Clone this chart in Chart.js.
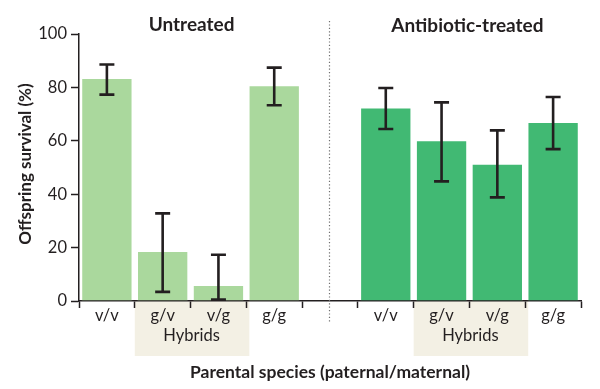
<!DOCTYPE html>
<html>
<head>
<meta charset="utf-8">
<script src="https://cdn.jsdelivr.net/npm/chart.js@4"></script>
<style>
html,body{margin:0;padding:0;background:#fff;}
#wrap{width:600px;height:389px;}
</style>
</head>
<body>
<div id="wrap"><canvas id="c" width="600" height="389"></canvas></div>
<script>
const categories = ['v/v','g/v','v/g','g/g','','v/v','g/v','v/g','g/g'];
const untreatedMeans = [83.5, 18.7, 6.0, 80.8];
const untreatedLow   = [77.3, 3.4, 0.5, 73.3];
const untreatedHigh  = [88.6, 32.8, 17.3, 87.4];
const treatedMeans   = [72.5, 60.2, 51.4, 67.0];
const treatedLow     = [64.4, 44.8, 38.8, 56.9];
const treatedHigh    = [79.8, 74.4, 63.9, 76.4];
const groupTitles = ['Untreated', 'Antibiotic-treated'];
const hybridLabel = 'Hybrids';
const yTitle = 'Offspring survival (%)';
const xTitle = 'Parental species (paternal/maternal)';

const LIGHT = '#aad89d', DARK = '#41b973', INK = '#231f20';
const values = [...untreatedMeans, null, ...treatedMeans];
const lows = [...untreatedLow, null, ...treatedLow];
const highs = [...untreatedHigh, null, ...treatedHigh];
const colors = values.map((v, i) => i < 4 ? LIGHT : DARK);

const deco = {
  id: 'deco',
  beforeDraw(chart) {
    const ctx = chart.ctx, x = chart.scales.x, area = chart.chartArea;
    const w = x.getPixelForValue(1) - x.getPixelForValue(0);
    ctx.save();
    ctx.fillStyle = '#f3f0e4';
    [[1, 2], [6, 7]].forEach(([a, b]) => {
      const l = x.getPixelForValue(a) - w / 2;
      const r = x.getPixelForValue(b) + w / 2 + 3;
      ctx.fillRect(l, area.bottom, r - l, 356 - area.bottom);
    });
    ctx.restore();
  },
  afterDraw(chart) {
    const ctx = chart.ctx, x = chart.scales.x, y = chart.scales.y, area = chart.chartArea;
    const meta = chart.getDatasetMeta(0);
    ctx.save();
    // error bars
    ctx.strokeStyle = INK; ctx.lineWidth = 2.6; ctx.lineCap = 'butt';
    values.forEach((v, i) => {
      if (v === null) return;
      const cx = meta.data[i].x;
      const yl = y.getPixelForValue(lows[i]), yh = y.getPixelForValue(highs[i]);
      ctx.beginPath();
      ctx.moveTo(cx, yl); ctx.lineTo(cx, yh);
      ctx.moveTo(cx - 7.5, yl); ctx.lineTo(cx + 7.5, yl);
      ctx.moveTo(cx - 7.5, yh); ctx.lineTo(cx + 7.5, yh);
      ctx.stroke();
    });
    // divider
    const dx = Math.round(x.getPixelForValue(4)) - 0.5;
    ctx.strokeStyle = '#6f6f6f'; ctx.lineWidth = 1.2; ctx.setLineDash([1.2, 2.2]);
    ctx.beginPath(); ctx.moveTo(dx, 21); ctx.lineTo(dx, 323); ctx.stroke();
    ctx.setLineDash([]);
    // group titles
    ctx.fillStyle = INK; ctx.textAlign = 'center'; ctx.textBaseline = 'middle';
    ctx.font = 'bold 19px Lato';
    ctx.fillText(groupTitles[0], (x.getPixelForValue(0) + x.getPixelForValue(3)) / 2 + 1, 25);
    ctx.fillText(groupTitles[1], (x.getPixelForValue(5) + x.getPixelForValue(8)) / 2 - 2, 26);
    // hybrids labels
    ctx.font = '16.5px Lato';
    ctx.fillText(hybridLabel, (x.getPixelForValue(1) + x.getPixelForValue(2)) / 2 + 1, 336);
    ctx.fillText(hybridLabel, (x.getPixelForValue(6) + x.getPixelForValue(7)) / 2 + 1, 336);
    // axis titles
    ctx.font = 'bold 17.5px Lato';
    ctx.fillText(xTitle, (area.left + area.right) / 2, 372);
    ctx.translate(26, 164); ctx.rotate(-Math.PI / 2);
    ctx.font = 'bold 17px Lato';
    ctx.fillText(yTitle, 0, 0);
    ctx.restore();
  }
};

new Chart(document.getElementById('c'), {
  type: 'bar',
  data: {
    labels: categories,
    datasets: [{
      data: values,
      backgroundColor: colors,
      borderColor: 'rgba(255,255,255,0.35)',
      borderWidth: 1,
      barPercentage: 0.92,
      categoryPercentage: 1
    }]
  },
  options: {
    responsive: false,
    animation: false,
    layout: { padding: { top: 34, right: 19, left: 0, bottom: 0 } },
    plugins: { legend: { display: false }, tooltip: { enabled: false }, title: { display: false } },
    scales: {
      x: {
        afterFit(s) { s.height = 88; },
        grid: { drawOnChartArea: false, offset: true, tickLength: 7, tickColor: INK, tickWidth: 1.5 },
        border: { display: true, color: INK, width: 1.5 },
        ticks: { color: INK, font: { family: 'Lato', size: 16.5 }, padding: -2, maxRotation: 0, autoSkip: false }
      },
      y: {
        min: 0, max: 100,
        afterFit(s) { s.width = 79; },
        grid: { drawOnChartArea: false, tickLength: 8, tickColor: INK, tickWidth: 1.5 },
        border: { display: true, color: INK, width: 1.5 },
        ticks: { stepSize: 20, color: INK, font: { family: 'Lato', size: 16.5 }, padding: 4 }
      }
    }
  },
  plugins: [deco]
});
</script>
</body>
</html>
